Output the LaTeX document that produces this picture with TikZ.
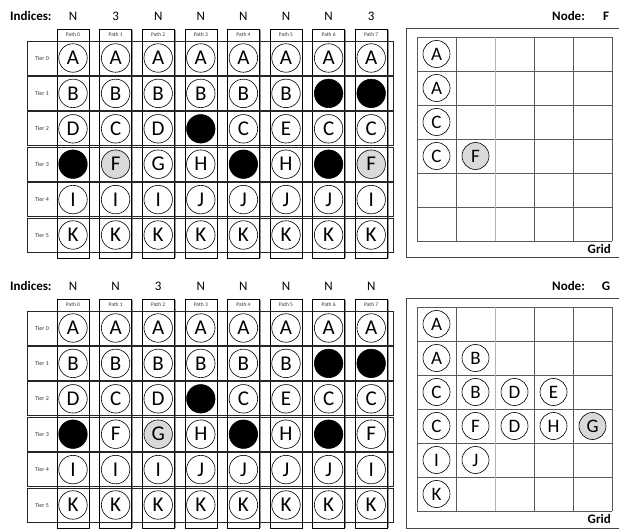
\documentclass[tikz,border=0pt]{standalone}
\usepackage{fontspec}
\setmainfont{Carlito}
\definecolor{hl}{RGB}{217,217,217}
\definecolor{framecol}{RGB}{70,70,70}
\definecolor{shadowcol}{RGB}{150,150,150}
\definecolor{gridcol}{RGB}{90,90,90}
\tikzset{
  circ/.style={circle, draw=black, line width=0.6pt, minimum size=28.5pt, inner sep=0pt, font=\fontsize{21}{25}\selectfont},
  gcirc/.style={circle, draw=black, line width=0.6pt, minimum size=27pt, inner sep=0pt, font=\fontsize{19}{23}\selectfont},
  idx/.style={inner sep=0pt, font=\fontsize{13}{15}\selectfont},
  boldlbl/.style={inner sep=0pt, font=\bfseries\fontsize{13}{15}\selectfont},
  pathlbl/.style={inner sep=0pt, font=\fontsize{5.5}{6.5}\selectfont, text=black!80},
  tierlbl/.style={inner sep=0pt, font=\fontsize{6}{7}\selectfont, text=black!80},
  colline/.style={draw=black, line width=0.6pt},
  colshadow/.style={draw=shadowcol, line width=1.2pt},
  rowline/.style={draw=black!85, line width=0.8pt},
  gridline/.style={draw=gridcol, line width=0.6pt},
  gridlight/.style={draw=black!30, line width=0.8pt},
  outerframe/.style={draw=framecol, line width=1pt}
}
% #1 y offset, #2 name prefix, #3 indices, #4 tier rows, #5 grid entries, #6 node letter
\newcommand\mypanel[6]{%
\begin{scope}[yshift=-#1pt]
  \node[boldlbl, anchor=west] (#2-ind) at (10,16) {Indices:};
  \foreach \v [count=\c from 0] in {#3}
    \node[idx] (#2-idx-\c) at ({73+42.6*\c},16) {\v};
  \foreach \c in {0,...,7} {
    \draw[colshadow] ({73+42.6*\c+16.7},30) -- ({73+42.6*\c+16.7},258);
    \draw[colline] ({73+42.6*\c-16},29) rectangle ({73+42.6*\c+16},258);
    \node[pathlbl] (#2-p-\c) at ({73+42.6*\c},35) {Path \c};
  }
  \foreach \r in {0,...,5} {
    \draw[rowline] (27,{41+35.4*\r}) rectangle (393,{75+35.4*\r});
    \node[tierlbl] (#2-t-\r) at (42,{58+35.4*\r}) {Tier \r};
  }
  \foreach \row [count=\r from 0] in {#4} {
    \foreach \e/\f [count=\c from 0] in \row {
      \node[circ, fill=\f] (#2-c-\r-\c) at ({73+42.6*\c},{58+35.4*\r}) {\e};
    }
  }
  % right panel
  \draw[outerframe] (620,29) -- (406,29) -- (406,258) -- (620,258);
  \foreach \j in {0,...,6}
    \draw[gridline] (417,{37+34*\j}) -- (612,{37+34*\j});
  \foreach \i in {0,1,3,4,5}
    \draw[gridline] ({417+39*\i},37) -- ({417+39*\i},241);
  \draw[gridlight] (495,37) -- (495,241);
  \foreach \r/\c/\e/\f in {#5}
    \node[gcirc, fill=\f] (#2-g-\r-\c) at ({436.5+39*\c},{54+34*\r}) {\e};
  \node[boldlbl, anchor=west] (#2-nodelbl) at (552,16) {Node:};
  \node[boldlbl] (#2-nodeval) at (606,16) {#6};
  \node[boldlbl, anchor=east] (#2-gridlbl) at (611,249) {Grid};
\end{scope}}
\begin{document}
\begin{tikzpicture}[x=1pt, y=-1pt]
\useasboundingbox (0,0) rectangle (619,529);
\mypanel{0}{top}{N,3,N,N,N,N,N,3}{%
 {A/white,A/white,A/white,A/white,A/white,A/white,A/white,A/white},
 {B/white,B/white,B/white,B/white,B/white,B/white,{}/black,{}/black},
 {D/white,C/white,D/white,{}/black,C/white,E/white,C/white,C/white},
 {{}/black,F/hl,G/white,H/white,{}/black,H/white,{}/black,F/hl},
 {I/white,I/white,I/white,J/white,J/white,J/white,J/white,I/white},
 {K/white,K/white,K/white,K/white,K/white,K/white,K/white,K/white}}%
 {0/0/A/white,1/0/A/white,2/0/C/white,3/0/C/white,3/1/F/hl}{F}
\mypanel{270}{bot}{N,N,3,N,N,N,N,N}{%
 {A/white,A/white,A/white,A/white,A/white,A/white,A/white,A/white},
 {B/white,B/white,B/white,B/white,B/white,B/white,{}/black,{}/black},
 {D/white,C/white,D/white,{}/black,C/white,E/white,C/white,C/white},
 {{}/black,F/white,G/hl,H/white,{}/black,H/white,{}/black,F/white},
 {I/white,I/white,I/white,J/white,J/white,J/white,J/white,I/white},
 {K/white,K/white,K/white,K/white,K/white,K/white,K/white,K/white}}%
 {0/0/A/white,1/0/A/white,1/1/B/white,2/0/C/white,2/1/B/white,2/2/D/white,2/3/E/white,3/0/C/white,3/1/F/white,3/2/D/white,3/3/H/white,3/4/G/hl,4/0/I/white,4/1/J/white,5/0/K/white}{G}
\end{tikzpicture}
\end{document}
